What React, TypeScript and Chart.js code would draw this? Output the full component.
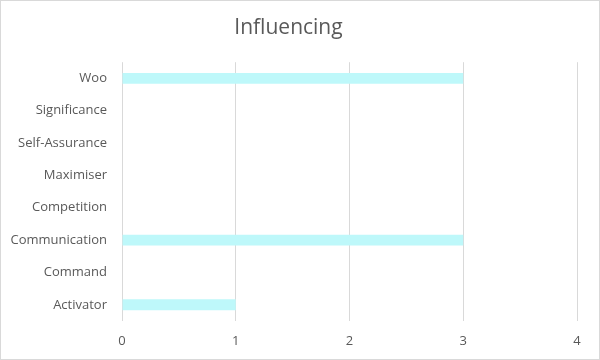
import React, { useEffect, useRef } from "react";
import { Chart, registerables } from "chart.js";

Chart.register(...registerables);

const title = "Influencing";
const categories = [
  "Woo",
  "Significance",
  "Self-Assurance",
  "Maximiser",
  "Competition",
  "Communication",
  "Command",
  "Activator",
];
const values = [3, 0, 0, 0, 0, 3, 0, 1];
const xMin = 0;
const xMax = 4;
const xStep = 1;

export default function App() {
  const ref = useRef<HTMLCanvasElement | null>(null);

  useEffect(() => {
    document.body.style.margin = "0";
    const canvas = ref.current;
    if (!canvas) return;
    const font = '"Open Sans", "DejaVu Sans", sans-serif';
    const chart = new Chart(canvas, {
      type: "bar",
      data: {
        labels: categories,
        datasets: [
          {
            label: title,
            data: values,
            backgroundColor: "rgb(190, 248, 250)",
            borderWidth: 0,
            barPercentage: 0.34,
            categoryPercentage: 1,
          },
        ],
      },
      options: {
        indexAxis: "y",
        animation: false,
        responsive: false,
        maintainAspectRatio: false,
        layout: { padding: { top: 0, right: 23, bottom: 0, left: 0 } },
        plugins: {
          legend: { display: false },
          tooltip: { enabled: false },
          title: {
            display: true,
            text: title,
            color: "#595959",
            font: { family: font, size: 21, weight: "normal" },
            padding: { top: 15, bottom: 22 },
          },
        },
        scales: {
          x: {
            min: xMin,
            max: xMax,
            ticks: {
              stepSize: xStep,
              color: "#595959",
              font: { family: font, size: 13 },
              padding: 12,
            },
            grid: {
              color: "#d9d9d9",
              lineWidth: 1,
              drawTicks: false,
            },
            border: { display: false },
            afterFit: (scale: any) => {
              scale.height = 39;
            },
          },
          y: {
            ticks: {
              color: "#595959",
              font: { family: font, size: 13 },
              padding: 15,
            },
            grid: { display: false, drawTicks: false },
            border: { display: false },
            afterFit: (scale: any) => {
              scale.width = 122;
            },
          },
        },
      },
    });
    return () => chart.destroy();
  }, []);

  return (
    <div
      style={{
        position: "relative",
        width: 600,
        height: 360,
        background: "#fff",
        overflow: "hidden",
      }}
    >
      <canvas
        ref={ref}
        width={600}
        height={360}
        style={{ position: "absolute", left: 0, top: 0, width: 600, height: 360 }}
      />
      <div
        style={{
          position: "absolute",
          left: 0,
          top: 0,
          width: 600,
          height: 360,
          boxSizing: "border-box",
          border: "1px solid #d9d9d9",
          pointerEvents: "none",
        }}
      />
    </div>
  );
}
